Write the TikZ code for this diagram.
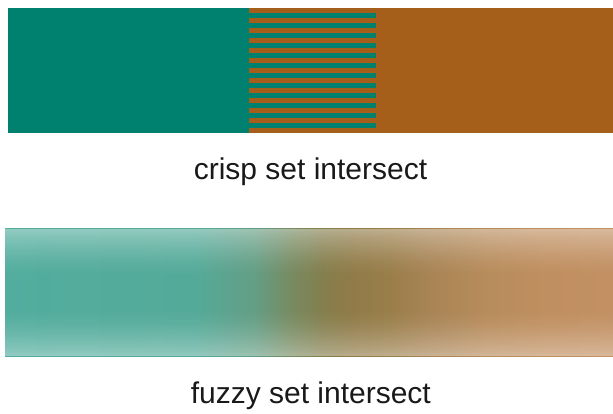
\documentclass[tikz,border=0pt]{standalone}
\usepackage{fontspec}
\setmainfont{Liberation Sans}
\usetikzlibrary{fadings}
\definecolor{teal1}{RGB}{0,128,110}
\definecolor{brown1}{RGB}{166,94,27}
\definecolor{f1}{RGB}{82,173,158}
\definecolor{f2}{RGB}{84,170,153}
\definecolor{f3}{RGB}{100,158,133}
\definecolor{f4}{RGB}{120,138,96}
\definecolor{f5}{RGB}{133,126,76}
\definecolor{f6}{RGB}{144,123,72}
\definecolor{f7}{RGB}{154,126,74}
\definecolor{f8}{RGB}{168,132,85}
\definecolor{f9}{RGB}{184,140,92}
\definecolor{f10}{RGB}{192,143,96}
\definecolor{f11}{RGB}{194,144,99}
\pgfdeclarehorizontalshading{fuzzyH}{100bp}{color(0bp)=(f1); color(25bp)=(f1); color(40.63bp)=(f2); color(45.48bp)=(f3); color(48.68bp)=(f4); color(51.23bp)=(f5); color(53.54bp)=(f6); color(56.66bp)=(f7); color(59.95bp)=(f8); color(64.72bp)=(f9); color(69.57bp)=(f10); color(75bp)=(f11); color(100bp)=(f11)}
\pgfdeclareverticalshading{edgefadeS}{100bp}{color(0bp)=(black!62); color(25bp)=(black!62); color(28bp)=(black!72); color(33bp)=(black!84); color(38bp)=(black!94); color(43bp)=(black); color(57bp)=(black); color(62bp)=(black!94); color(67bp)=(black!84); color(72bp)=(black!72); color(75bp)=(black!62); color(100bp)=(black!62)}
\pgfdeclarefading{edgefade}{\pgfuseshading{edgefadeS}}
\tikzset{
  label text/.style={font=\fontsize{30}{36}\selectfont, anchor=base, inner sep=0pt, text=black!90},
}
\begin{document}
\begin{tikzpicture}[x=1pt,y=-1pt]
\useasboundingbox (0,0) rectangle (613,414);
% crisp bar
\fill[teal1] (8,8) rectangle (249,133.5);
\fill[brown1] (249,8) rectangle (613,133.5);
\foreach \k in {0,...,11} {
  \fill[teal1] (248.5,{12.8+10*\k}) rectangle (376,{17.8+10*\k});
}
\node[label text] (crisp) at (310.5,180) {crisp set intersect};
% fuzzy bar
\shade[shading=fuzzyH] (5,229) rectangle (613,356);
\fill[white, path fading=edgefade] (5,229) rectangle (613,356);
\node[label text] (fuzzy) at (310.8,403) {fuzzy set intersect};
\end{tikzpicture}
\end{document}
